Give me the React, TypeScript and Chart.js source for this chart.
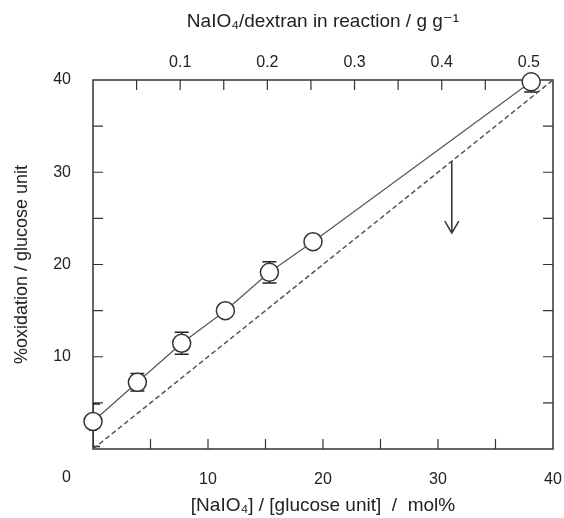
import React, { useEffect, useRef } from "react";
import { Chart, registerables } from "chart.js";

Chart.register(...registerables);

// ---- data ----
const molPercent = [0, 3.86, 7.71, 11.51, 15.34, 19.13, 38.1];
const oxidation = [2.98, 7.23, 11.46, 14.99, 19.15, 22.47, 39.8];
const errorUp = [1.9, 0.95, 1.2, 0, 1.15, 0, 1.1];
const errorDown = [2.7, 0.95, 1.2, 0, 1.15, 0, 1.1];

const theoreticalX = [0, 40];
const theoreticalY = [0, 40];

const arrowX = 31.2;
const arrowFromY = 31.2;
const arrowToY = 23.4;

const xTickLabels = ["10", "20", "30", "40"];
const yTickLabels = ["10", "20", "30", "40"];
const topTickLabels = ["0.1", "0.2", "0.3", "0.4", "0.5"];
const originLabel = "0";

const MW_NAIO4 = 213.89;
const MW_GLUCOSE_UNIT = 162.14;

const xTitle = "[NaIO\u2084] / [glucose unit]  /  mol%";
const yTitle = "%oxidation / glucose unit";
const topTitle = "NaIO\u2084/dextran in reaction / g g\u207B\u00B9";

// ---- styles ----
const FONT_FAMILY = "'Liberation Sans', Arial, 'DejaVu Sans', sans-serif";
const TEXT_COLOR = "#222";
const AXIS_COLOR = "#333";
const TICK_LEN = 10;

const framePlugin = {
  id: "frame",
  beforeDatasetsDraw(chart: any) {
    const { ctx, chartArea: a, scales } = chart;
    ctx.save();
    ctx.strokeStyle = AXIS_COLOR;
    ctx.lineWidth = 1.5;
    ctx.strokeRect(a.left, a.top, a.right - a.left, a.bottom - a.top);

    ctx.lineWidth = 1.2;
    ctx.beginPath();
    const hz = [
      ["x", a.bottom, -1],
      ["x2", a.top, 1],
    ];
    for (const [id, y0, dir] of hz as any) {
      const s = scales[id];
      s.ticks.forEach((t: any) => {
        const px = s.getPixelForValue(t.value);
        if (px <= a.left + 1 || px >= a.right - 1) return;
        ctx.moveTo(px, y0);
        ctx.lineTo(px, y0 + dir * TICK_LEN);
      });
    }
    const vt = [
      ["y", a.left, 1],
      ["y2", a.right, -1],
    ];
    for (const [id, x0, dir] of vt as any) {
      const s = scales[id];
      s.ticks.forEach((t: any) => {
        const py = s.getPixelForValue(t.value);
        if (py <= a.top + 1 || py >= a.bottom - 1) return;
        ctx.moveTo(x0, py);
        ctx.lineTo(x0 + dir * TICK_LEN, py);
      });
    }
    ctx.stroke();

    // origin label shared by both axes
    ctx.fillStyle = TEXT_COLOR;
    ctx.font = `16px ${FONT_FAMILY}`;
    ctx.textAlign = "right";
    ctx.textBaseline = "middle";
    ctx.fillText(originLabel, a.left - 22, a.bottom + 29);

    // error bars (clipped to plot area)
    ctx.beginPath();
    ctx.rect(a.left, a.top, a.right - a.left, a.bottom - a.top);
    ctx.clip();
    const xs = scales.x;
    const ys = scales.y;
    ctx.strokeStyle = "#222";
    ctx.lineWidth = 1.5;
    ctx.beginPath();
    const cap = 7;
    molPercent.forEach((xv, i) => {
      if (!errorUp[i] && !errorDown[i]) return;
      const px = xs.getPixelForValue(xv);
      const pTop = ys.getPixelForValue(oxidation[i] + errorUp[i]);
      const pBot = ys.getPixelForValue(oxidation[i] - errorDown[i]);
      ctx.moveTo(px, pTop);
      ctx.lineTo(px, pBot);
      ctx.moveTo(px - cap, pTop);
      ctx.lineTo(px + cap, pTop);
      ctx.moveTo(px - cap, pBot);
      ctx.lineTo(px + cap, pBot);
    });
    ctx.stroke();
    ctx.restore();
  },
  afterDatasetsDraw(chart: any) {
    const { ctx, scales } = chart;
    const px = scales.x.getPixelForValue(arrowX);
    const p1 = scales.y.getPixelForValue(arrowFromY);
    const p2 = scales.y.getPixelForValue(arrowToY);
    ctx.save();
    ctx.strokeStyle = "#333";
    ctx.lineWidth = 1.5;
    ctx.beginPath();
    ctx.moveTo(px, p1);
    ctx.lineTo(px, p2);
    ctx.moveTo(px - 7, p2 - 12);
    ctx.lineTo(px, p2);
    ctx.lineTo(px + 7, p2 - 12);
    ctx.stroke();
    ctx.restore();
  },
};

function fixSize(prop: "width" | "height", size: number) {
  return (s: any) => {
    s[prop] = size;
    s.paddingLeft = 0;
    s.paddingRight = 0;
    s.paddingTop = 0;
    s.paddingBottom = 0;
  };
}

export default function App() {
  const canvasRef = useRef<HTMLCanvasElement | null>(null);

  useEffect(() => {
    const canvas = canvasRef.current;
    if (!canvas) return;

    const tickFont = { family: FONT_FAMILY, size: 16 };
    const titleFontH = { family: FONT_FAMILY, size: 19 };
    const titleFontV = { family: FONT_FAMILY, size: 18 };

    const hiddenGrid = { display: false, drawTicks: false };

    const chart = new Chart(canvas, {
      type: "scatter",
      data: {
        datasets: [
          {
            label: "measured",
            data: molPercent.map((x, i) => ({ x, y: oxidation[i] })),
            showLine: true,
            borderColor: "#555",
            borderWidth: 1.2,
            pointRadius: 9,
            pointHoverRadius: 9,
            pointBackgroundColor: "#fff",
            pointBorderColor: "#333",
            pointBorderWidth: 1.5,
            clip: false,
            order: 0,
            xAxisID: "x",
            yAxisID: "y",
          },
          {
            label: "theoretical",
            data: theoreticalX.map((x, i) => ({ x, y: theoreticalY[i] })),
            showLine: true,
            borderColor: "#555",
            borderWidth: 1.5,
            borderDash: [5, 3],
            pointRadius: 0,
            order: 1,
            xAxisID: "x",
            yAxisID: "y",
          },
        ],
      },
      options: {
        responsive: false,
        maintainAspectRatio: false,
        animation: false,
        events: [],
        layout: { padding: 0 },
        plugins: {
          legend: { display: false },
          tooltip: { enabled: false },
        },
        scales: {
          x: {
            type: "linear",
            position: "bottom",
            min: 0,
            max: 40,
            grid: hiddenGrid,
            border: { display: false },
            ticks: {
              stepSize: 5,
              autoSkip: false,
              maxRotation: 0,
              padding: 21,
              color: TEXT_COLOR,
              font: tickFont,
              callback: (v: any) => (xTickLabels.includes(String(v)) ? String(v) : ""),
            },
            title: {
              display: true,
              text: xTitle,
              color: TEXT_COLOR,
              font: titleFontH,
              padding: { top: 0, bottom: 1 },
            },
            afterFit: fixSize("height", 69),
          },
          x2: {
            type: "linear",
            position: "top",
            min: 0,
            max: (40 * MW_NAIO4) / MW_GLUCOSE_UNIT / 100,
            grid: hiddenGrid,
            border: { display: false },
            ticks: {
              stepSize: 0.05,
              includeBounds: false,
              autoSkip: false,
              maxRotation: 0,
              padding: 8,
              color: TEXT_COLOR,
              font: tickFont,
              callback: (v: any) => {
                const s = Number(v).toFixed(1);
                return Math.abs(Number(v) - Number(s)) < 1e-6 && topTickLabels.includes(s) ? s : "";
              },
            },
            title: {
              display: true,
              text: topTitle,
              color: TEXT_COLOR,
              font: titleFontH,
              padding: { top: 10, bottom: 0 },
            },
            afterFit: fixSize("height", 80),
          },
          y: {
            type: "linear",
            position: "left",
            min: 0,
            max: 40,
            grid: hiddenGrid,
            border: { display: false },
            ticks: {
              stepSize: 5,
              autoSkip: false,
              padding: 22,
              color: TEXT_COLOR,
              font: tickFont,
              callback: (v: any) => (yTickLabels.includes(String(v)) ? String(v) : ""),
            },
            title: {
              display: true,
              text: yTitle,
              color: TEXT_COLOR,
              font: titleFontV,
              padding: { top: 11, bottom: 0 },
            },
            afterFit: fixSize("width", 93),
          },
          y2: {
            type: "linear",
            position: "right",
            min: 0,
            max: 40,
            grid: hiddenGrid,
            border: { display: false },
            ticks: {
              stepSize: 5,
              autoSkip: false,
              padding: 0,
              callback: () => "",
            },
            afterFit: fixSize("width", 11),
          },
        },
      },
      plugins: [framePlugin],
    } as any);

    return () => chart.destroy();
  }, []);

  return (
    <div style={{ position: "absolute", left: 0, top: 0, width: 564, height: 518, background: "#fff" }}>
      <canvas ref={canvasRef} width={564} height={518} />
    </div>
  );
}
